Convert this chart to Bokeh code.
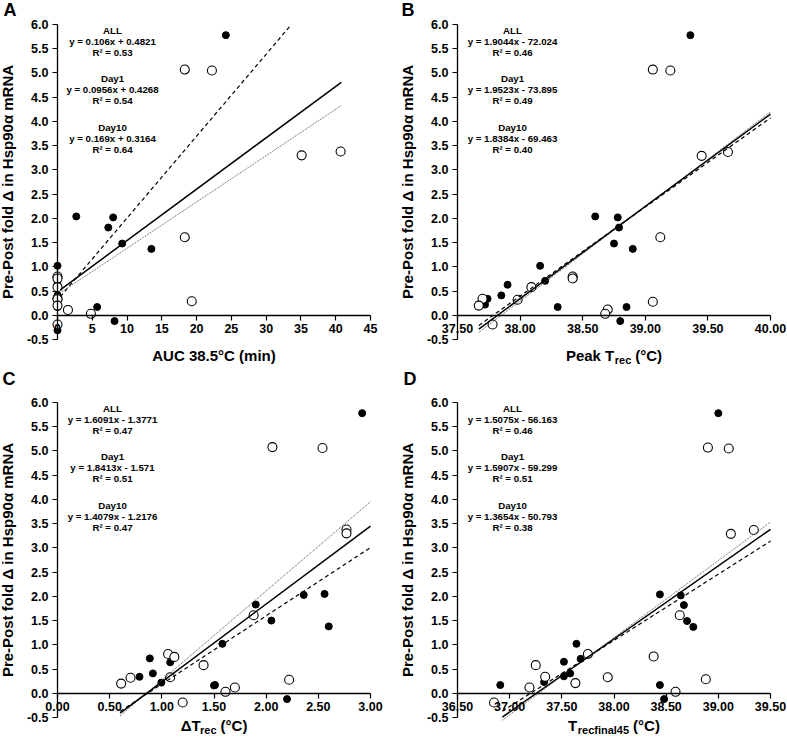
from bokeh.plotting import figure
from bokeh.layouts import gridplot
from bokeh.models import Label, FixedTicker, NumeralTickFormatter
from bokeh.embed import file_html
from bokeh.resources import INLINE

FONT = "Liberation Sans"

# ---------------- common y axis ----------------
y_ticks = [-0.5, 0.0, 0.5, 1.0, 1.5, 2.0, 2.5, 3.0, 3.5, 4.0, 4.5, 5.0, 5.5, 6.0]
y_tick_labels = ["-0.5", "0.0", "0.5", "1.0", "1.5", "2.0", "2.5", "3.0", "3.5",
                 "4.0", "4.5", "5.0", "5.5", "6.0"]
y_label = "Pre-Post fold \u0394 in Hsp90\u03b1 mRNA"
fit_titles = ["ALL", "Day1", "Day10"]

# ---------------- Panel A: AUC 38.5 ----------------
a_x_ticks = [0, 5, 10, 15, 20, 25, 30, 35, 40, 45]
a_x_tick_labels = ["0", "5", "10", "15", "20", "25", "30", "35", "40", "45"]
a_filled_x = [24.2, 2.7, 8.0, 7.3, 9.3, 13.5, 5.7, 8.2, 0, 0, 0, 0, 0, 0, 0, 0]
a_filled_y = [5.78, 2.04, 2.02, 1.81, 1.48, 1.37, 0.17, -0.12, 1.02, 0.72, 0.64, 0.41, 0.34, 0.22, 0.17, -0.31]
a_open_x = [18.3, 22.2, 35.1, 40.7, 18.3, 19.3, 1.5, 4.8, 0, 0, 0, 0, 0, 0, 0]
a_open_y = [5.07, 5.05, 3.30, 3.38, 1.61, 0.29, 0.11, 0.03, 0.80, 0.76, 0.58, 0.35, 0.33, 0.20, -0.19]
a_slopes = [0.106, 0.0956, 0.169]
a_intercepts = [0.4821, 0.4268, 0.3164]
a_fit_range = [0.4, 40.8]
a_eq = ["y = 0.106x + 0.4821", "y = 0.0956x + 0.4268", "y = 0.169x + 0.3164"]
a_r2 = ["R\u00b2 = 0.53", "R\u00b2 = 0.54", "R\u00b2 = 0.64"]

# ---------------- Panel B: Peak Trec ----------------
b_x_ticks = [37.5, 38.0, 38.5, 39.0, 39.5, 40.0]
b_x_tick_labels = ["37.50", "38.00", "38.50", "39.00", "39.50", "40.00"]
b_filled_x = [39.36, 38.60, 38.78, 38.79, 38.75, 38.90, 38.16, 38.20, 37.90, 37.85, 37.74, 37.72, 38.30, 38.85, 38.80]
b_filled_y = [5.78, 2.04, 2.02, 1.81, 1.48, 1.37, 1.02, 0.71, 0.63, 0.41, 0.34, 0.22, 0.17, 0.17, -0.12]
b_open_x = [39.06, 39.20, 39.45, 39.66, 39.12, 38.42, 38.42, 38.09, 37.98, 37.70, 37.67, 39.06, 38.70, 38.68, 37.78]
b_open_y = [5.07, 5.05, 3.29, 3.37, 1.61, 0.80, 0.76, 0.58, 0.32, 0.34, 0.20, 0.28, 0.12, 0.03, -0.19]
b_slopes = [1.9044, 1.9523, 1.8384]
b_intercepts = [-72.024, -73.895, -69.463]
b_fit_range = [37.67, 40.0]
b_eq = ["y = 1.9044x - 72.024", "y = 1.9523x - 73.895", "y = 1.8384x - 69.463"]
b_r2 = ["R\u00b2 = 0.46", "R\u00b2 = 0.49", "R\u00b2 = 0.40"]

# ---------------- Panel C: delta Trec ----------------
c_x_ticks = [0.0, 0.5, 1.0, 1.5, 2.0, 2.5, 3.0]
c_x_tick_labels = ["0.00", "0.50", "1.00", "1.50", "2.00", "2.50", "3.00"]
c_filled_x = [2.92, 2.36, 2.56, 1.90, 2.05, 2.60, 1.58, 0.885, 1.08, 0.786, 0.914, 0.995, 1.51, 1.50, 2.20]
c_filled_y = [5.78, 2.03, 2.05, 1.83, 1.50, 1.38, 1.02, 0.72, 0.64, 0.34, 0.41, 0.22, 0.17, 0.16, -0.12]
c_open_x = [2.06, 2.54, 2.77, 2.77, 1.88, 1.06, 1.12, 1.40, 1.08, 0.70, 0.61, 2.22, 1.70, 1.61, 1.20]
c_open_y = [5.08, 5.06, 3.38, 3.30, 1.61, 0.81, 0.75, 0.58, 0.33, 0.32, 0.20, 0.28, 0.12, 0.03, -0.19]
c_slopes = [1.6091, 1.8413, 1.4079]
c_intercepts = [-1.3771, -1.571, -1.2176]
c_fit_range = [0.60, 3.0]
c_eq = ["y = 1.6091x - 1.3771", "y = 1.8413x - 1.571", "y = 1.4079x - 1.2176"]
c_r2 = ["R\u00b2 = 0.47", "R\u00b2 = 0.51", "R\u00b2 = 0.47"]

# ---------------- Panel D: Trec final 45 ----------------
d_x_ticks = [36.5, 37.0, 37.5, 38.0, 38.5, 39.0, 39.5]
d_x_tick_labels = ["36.50", "37.00", "37.50", "38.00", "38.50", "39.00", "39.50"]
d_filled_x = [39.00, 38.44, 38.64, 38.67, 38.70, 38.76, 37.64, 37.68, 37.52, 37.58, 37.52, 37.33, 36.91, 38.44, 38.48]
d_filled_y = [5.78, 2.04, 2.02, 1.82, 1.49, 1.37, 1.02, 0.71, 0.65, 0.41, 0.35, 0.23, 0.17, 0.17, -0.12]
d_open_x = [38.90, 39.10, 39.12, 39.34, 38.63, 38.38, 37.75, 37.25, 37.94, 37.34, 37.63, 38.88, 37.19, 38.59, 36.85]
d_open_y = [5.07, 5.05, 3.29, 3.37, 1.61, 0.76, 0.81, 0.58, 0.33, 0.34, 0.21, 0.29, 0.12, 0.03, -0.19]
d_slopes = [1.5075, 1.5907, 1.3654]
d_intercepts = [-56.163, -59.299, -50.793]
d_fit_range = [36.93, 39.5]
d_eq = ["y = 1.5075x - 56.163", "y = 1.5907x - 59.299", "y = 1.3654x - 50.793"]
d_r2 = ["R\u00b2 = 0.46", "R\u00b2 = 0.51", "R\u00b2 = 0.38"]

# x-axis label pieces: (text, font px, vertical offset px, gap before px)
a_xlabel = [("AUC 38.5\u00b0C (min)", 15, 0, 0)]
b_xlabel = [("Peak T", 15, 0, 0), ("rec", 11, -4, 0.5), ("(\u00b0C)", 15, 0, 4)]
c_xlabel = [("\u0394T", 15, 0, 0), ("rec", 11, -4, 0.5), ("(\u00b0C)", 15, 0, 4)]
d_xlabel = [("T", 15, 0, 0), ("recfinal45", 11, -4, 0.5), ("(\u00b0C)", 15, 0, 4)]

W_TAB = {' ': .278, '(': .333, ')': .333, '.': .278, '\u00b0': .4, '\u0394': .65,
         'A': .722, 'C': .722, 'P': .667, 'T': .611, 'U': .722,
         'a': .556, 'c': .556, 'e': .556, 'f': .333, 'i': .278, 'k': .556,
         'l': .278, 'm': .889, 'n': .611, 'r': .389}


def est_width(s, size):
    return sum(W_TAB.get(ch, .556) for ch in s) * size


def make_panel(letter, xd, x_ticks, x_tick_labels, fx, fy, ox, oy,
               slopes, intercepts, fit_range, eqs, r2s, xlabel,
               fw, fh, lp, rp, tp, bp, letter_dx, letter_dy, xlabel_dy):
    # the frame covers the whole figure; axes are pinned at the data edges
    y0, y1 = y_ticks[0], y_ticks[-1]
    kx = (xd[1] - xd[0]) / (fw - lp - rp)
    ky = (y1 - y0) / (fh - tp - bp)
    x_range = (xd[0] - lp * kx, xd[1] + rp * kx)
    y_range = (y0 - bp * ky, y1 + tp * ky)
    p = figure(frame_width=fw, frame_height=fh, x_range=x_range, y_range=y_range,
               output_backend="svg", toolbar_location=None, min_border=0)
    p.xgrid.visible = False
    p.ygrid.visible = False
    p.outline_line_color = None
    p.background_fill_color = "white"
    p.border_fill_color = "white"

    p.xaxis.fixed_location = 0
    p.xaxis.bounds = (xd[0], xd[1])
    p.yaxis.fixed_location = xd[0]
    p.yaxis.bounds = (y0, y1)
    p.xaxis.ticker = FixedTicker(ticks=x_ticks)
    p.xaxis.major_label_overrides = dict(zip(x_ticks, x_tick_labels))
    p.yaxis.ticker = FixedTicker(ticks=y_ticks)
    p.yaxis.major_label_overrides = dict(zip(y_ticks, y_tick_labels))
    p.yaxis.formatter = NumeralTickFormatter(format="0.0")
    for ax in (p.xaxis, p.yaxis):
        ax.axis_line_color = "black"
        ax.axis_line_width = 1.3
        ax.major_tick_line_color = "black"
        ax.major_tick_line_width = 1.2
        ax.major_tick_in = 0
        ax.major_tick_out = 5
        ax.minor_tick_line_color = None
        ax.major_label_text_font = FONT
        ax.major_label_text_font_style = "bold"
        ax.major_label_text_font_size = "12.5px"
        ax.major_label_text_color = "black"
        ax.major_label_standoff = 4
    p.yaxis.axis_label = y_label
    p.yaxis.axis_label_text_font = FONT
    p.yaxis.axis_label_text_font_style = "bold"
    p.yaxis.axis_label_text_font_size = "15px"
    p.yaxis.axis_label_text_color = "black"
    p.yaxis.axis_label_standoff = 8

    # points
    p.scatter(fx, fy, size=7, marker="circle", fill_color="black", line_color="black")
    p.scatter(ox, oy, size=9, marker="circle", fill_color="white", line_color="black",
              line_width=1.1)

    # regression lines (ALL solid, Day1 dotted, Day10 dashed), stopped at the top of the axis
    styles = [dict(line_color="black", line_width=1.5),
              dict(line_color="#555555", line_width=1.0, line_dash="1 1"),
              dict(line_color="black", line_width=1.2, line_dash="4 3")]
    for k in (2, 1, 0):
        xa = fit_range[0]
        xb = min(fit_range[1], (y1 - intercepts[k]) / slopes[k])
        xs = [xa, xb]
        ys = [slopes[k] * x + intercepts[k] for x in xs]
        p.line(xs, ys, **styles[k])

    # equation annotations
    for k in range(3):
        for j, txt in enumerate([fit_titles[k], eqs[k], r2s[k]]):
            p.add_layout(Label(x=xd[0], y=y1 - k * 1.0,
                               x_offset=55, y_offset=-6 - 11 * j, text=txt,
                               text_align="center", text_baseline="middle",
                               text_font=FONT, text_font_style="bold",
                               text_font_size="9.7px", text_color="black"))

    # panel letter
    p.add_layout(Label(x=xd[0], y=y1, x_offset=letter_dx, y_offset=letter_dy,
                       text=letter, text_align="left", text_baseline="middle",
                       text_font=FONT, text_font_style="bold",
                       text_font_size="18px", text_color="black"))

    # x-axis label (below the axis area, pieced for subscripts)
    total = sum(est_width(t, s) + g for t, s, dy, g in xlabel)
    cx = (xd[0] + xd[1]) / 2
    pos = -total / 2
    for t, s, dy, g in xlabel:
        pos += g
        p.add_layout(Label(x=cx, y=y0, x_offset=pos, y_offset=xlabel_dy + dy,
                           text=t, text_align="left", text_baseline="middle",
                           text_font=FONT, text_font_style="bold",
                           text_font_size=f"{s}px", text_color="black"))
        pos += est_width(t, s)
    return p


WA, WB = 400, 386
LP, RPA, RPB = 57, 30, 16
DH = 315
TP1, BP1 = 24, 28
TP2, BP2 = 35, 21
H1 = TP1 + DH + BP1
H2 = TP2 + DH + BP2

pA = make_panel("A", (0, 45), a_x_ticks, a_x_tick_labels, a_filled_x, a_filled_y,
                a_open_x, a_open_y, a_slopes, a_intercepts, a_fit_range, a_eq, a_r2,
                a_xlabel, WA, H1, LP, RPA, TP1, BP1, -54, 15, -16)
pB = make_panel("B", (37.5, 40.0), b_x_ticks, b_x_tick_labels, b_filled_x, b_filled_y,
                b_open_x, b_open_y, b_slopes, b_intercepts, b_fit_range, b_eq, b_r2,
                b_xlabel, WB, H1, LP, RPB, TP1, BP1, -56, 15, -16)
pC = make_panel("C", (0.0, 3.0), c_x_ticks, c_x_tick_labels, c_filled_x, c_filled_y,
                c_open_x, c_open_y, c_slopes, c_intercepts, c_fit_range, c_eq, c_r2,
                c_xlabel, WA, H2, LP, RPA, TP2, BP2, -55, 24, -8)
pD = make_panel("D", (36.5, 39.5), d_x_ticks, d_x_tick_labels, d_filled_x, d_filled_y,
                d_open_x, d_open_y, d_slopes, d_intercepts, d_fit_range, d_eq, d_r2,
                d_xlabel, WB, H2, LP, RPB, TP2, BP2, -54, 24, -8)

grid = gridplot([[pA, pB], [pC, pD]], toolbar_location=None)

open("out.html", "w").write(file_html(grid, INLINE))
